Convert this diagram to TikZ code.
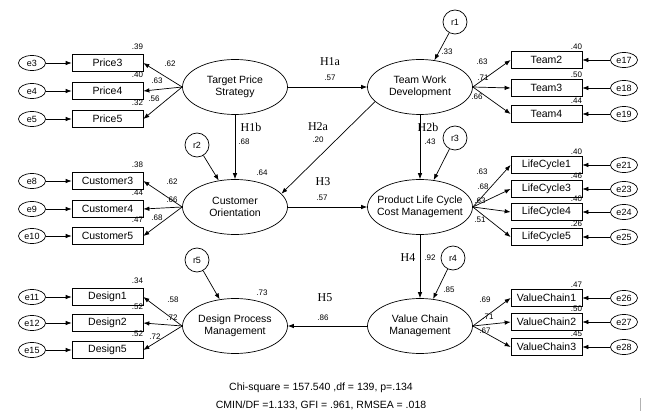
\documentclass[tikz,border=0pt]{standalone}
\usepackage{fontspec}
\setmainfont{Liberation Sans}
\newfontfamily\hypfont{Liberation Serif}
\usetikzlibrary{
  positioning,
  arrows.meta,
  shapes.geometric
}
\tikzset{
  latent/.style={draw, ellipse, minimum width=105pt, minimum height=55pt,
    inner xsep=-10pt, inner ysep=0pt, align=center,
    font=\fontsize{10.5}{12}\selectfont},
  ind/.style={draw, rectangle, minimum width=71pt, minimum height=17pt,
    inner sep=0pt, font=\fontsize{10.5}{12}\selectfont},
  err/.style={draw, ellipse, minimum width=27pt, minimum height=15pt,
    inner sep=0pt, font=\fontsize{9}{10}\selectfont},
  res/.style={draw, circle, minimum size=24pt, inner sep=0pt,
    font=\fontsize{9}{10}\selectfont},
  link/.style={-{Latex[length=6pt,width=4.5pt]}, line width=0.7pt},
  coef/.style={inner sep=0pt, font=\fontsize{8}{9}\selectfont},
  hyp/.style={inner sep=0pt, font=\hypfont\fontsize{12}{13}\selectfont},
  stat/.style={inner sep=0pt, font=\fontsize{10.5}{12}\selectfont}
}

\begin{document}
\begin{tikzpicture}[x=1pt, y=-1pt, line width=0.7pt]
  \useasboundingbox (0,0) rectangle (646,417);
  % latent variables
  \node[latent] (tps) at (235,87) {Target Price\\Strategy};
  \node[latent] (twd) at (420,87) {Team Work\\Development};
  \node[latent] (co) at (235,207) {Customer\\Orientation};
  \node[latent] (plc) at (420,207) {Product Life Cycle\\Cost Management};
  \node[latent] (dpm) at (235,326) {Design Process\\Management};
  \node[latent] (vcm) at (420,326) {Value Chain\\Management};

  % indicators, left side
  \foreach \nm/\y/\e/\ld/\lx/\ly/\rsq/\lv in {
      Price3/63/e3/.62/170/64/.39/tps, Price4/91/e4/.63/157/81/.40/tps,
      Price5/119/e5/.56/154/99/.32/tps,
      Customer3/181/e8/.62/172/182/.38/co, Customer4/209/e9/.66/172/200/.44/co,
      Customer5/236/e10/.68/157/218/.47/co,
      Design1/297/e11/.58/173/300/.34/dpm, Design2/323/e12/.72/172/318/.52/dpm,
      Design5/350/e15/.72/155/337/.52/dpm}{
    \node[ind] (\nm) at (107.5,\y) {\nm};
    \node[err] (\e) at (32,\y) {\e};
    \draw[link] (\e) -- (\nm);
    \draw[link] (\lv.west) -- (\nm.east);
    \node[coef] (l\nm) at (\lx,\ly) {\ld};
    \node[coef, anchor=south east] (r\nm) at ([yshift=4pt]\nm.north east) {\rsq};
  }

  % indicators, right side
  \foreach \nm/\y/\e/\ld/\lx/\ly/\rsq/\lv in {
      Team2/60/e17/.63/482/62/.40/twd, Team3/88/e18/.71/483/78/.50/twd,
      Team4/114/e19/.66/477/97/.44/twd,
      LifeCycle1/165/e21/.63/482/172/.40/plc, LifeCycle3/189/e23/.68/483/187/.46/plc,
      LifeCycle4/212/e24/.63/480/201/.40/plc, LifeCycle5/237/e25/.51/480/220/.26/plc,
      ValueChain1/298/e26/.69/485/300/.47/vcm, ValueChain2/322/e27/.71/488/317/.50/vcm,
      ValueChain3/347/e28/.67/485/331/.45/vcm}{
    \node[ind] (\nm) at (546.5,\y) {\nm};
    \node[err] (\e) at (624,\y) {\e};
    \draw[link] (\e) -- (\nm);
    \draw[link] (\lv.east) -- (\nm.west);
    \node[coef] (l\nm) at (\lx,\ly) {\ld};
    \node[coef, anchor=south east] (r\nm) at ([yshift=1pt]\nm.north east) {\rsq};
  }

  % residuals
  \node[res] (r1) at (455,22) {r1};
  \node[res] (r2) at (197,145) {r2};
  \node[res] (r3) at (455,138) {r3};
  \node[res] (r4) at (453,258) {r4};
  \node[res] (r5) at (197,260) {r5};
  \draw[link] (r1) -- (twd);
  \draw[link] (r2) -- (co);
  \draw[link] (r3) -- (plc);
  \draw[link] (r4) -- (vcm);
  \draw[link] (r5) -- (dpm);
  \node[coef] (qtwd) at (447,52) {.33};
  \node[coef] (qco) at (262,173) {.64};
  \node[coef] (qdpm) at (262,293) {.73};
  \node[coef] (qvcm) at (449,290) {.85};

  % hypotheses
  \draw[link] (tps) -- (twd);
  \node[hyp] (h1a) at (330,62) {H1a};
  \node[coef] (c1a) at (330,78) {.57};
  \draw[link] (tps) -- (co);
  \node[hyp] (h1b) at (251,127) {H1b};
  \node[coef] (c1b) at (244,142) {.68};
  \draw[link] (twd.198) -- (co.16);
  \node[hyp] (h2a) at (318,127) {H2a};
  \node[coef] (c2a) at (318,140) {.20};
  \draw[link] (twd) -- (plc);
  \node[hyp] (h2b) at (428,127) {H2b};
  \node[coef] (c2b) at (430,142) {.43};
  \draw[link] (co) -- (plc);
  \node[hyp] (h3) at (323,182) {H3};
  \node[coef] (c3) at (322,198) {.57};
  \draw[link] (plc) -- (vcm);
  \node[hyp] (h4) at (408,258) {H4};
  \node[coef] (c4) at (430,258) {.92};
  \draw[link] (vcm) -- (dpm);
  \node[hyp] (h5) at (325,298) {H5};
  \node[coef] (c5) at (323,318) {.86};

  % fit indices
  \node[stat] (chi) at (321,388) {Chi-square = 157.540 ,df = 139, p=.134};
  \node[stat] (gfi) at (321,405) {CMIN/DF =1.133, GFI = .961, RMSEA = .018};
  \draw[gray!60, line width=0.5pt] (640,398) -- (640,411);
\end{tikzpicture}
\end{document}
